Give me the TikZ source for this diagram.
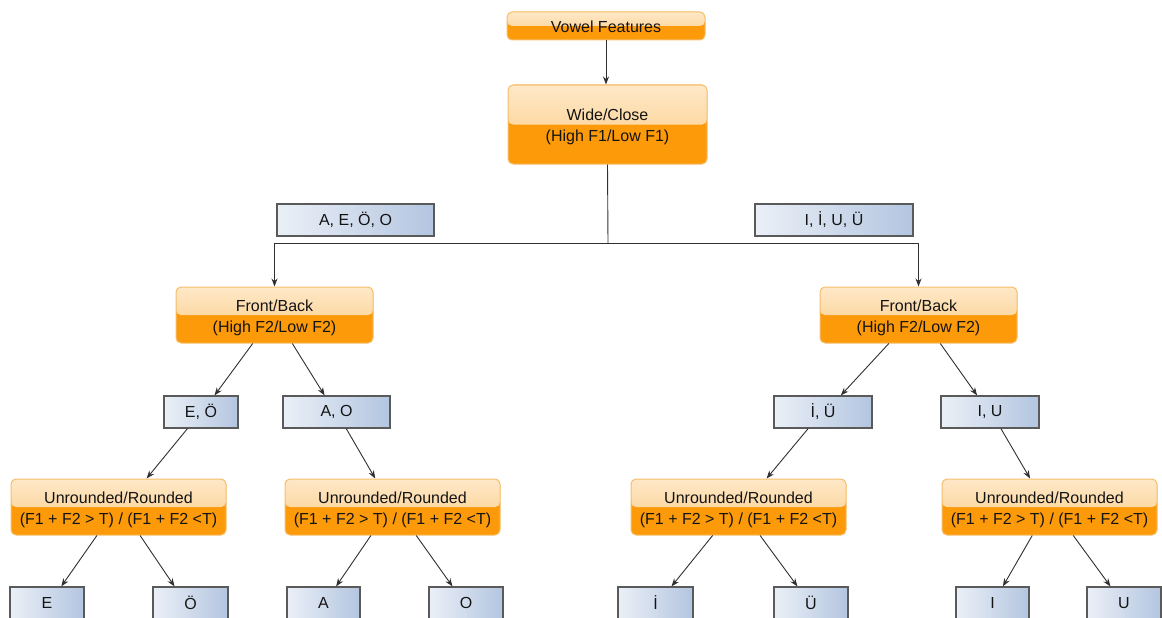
\documentclass[tikz,border=0pt]{standalone}
\usepackage{fontspec}
\setmainfont{Liberation Sans}
\usetikzlibrary{arrows.meta,calc}

\definecolor{otop}{HTML}{FEE8C8}
\definecolor{omid}{HTML}{FCCB82}
\definecolor{obot}{HTML}{FD9A0A}
\definecolor{ostroke}{HTML}{F6BE6A}
\definecolor{bleft}{HTML}{EBF0F7}
\definecolor{bright}{HTML}{B3C5E0}
\definecolor{bstroke}{HTML}{5A5A5A}
\definecolor{ink}{HTML}{141414}
\definecolor{wire}{HTML}{303030}

% strut that lowers a two-line label a little inside its box
\newcommand{\toprule}{\rule{0pt}{17pt}}

\begin{document}
\begin{tikzpicture}[x=1pt,y=-1pt,
  every node/.style={text=ink, font=\fontsize{16}{21}\selectfont},
  obox/.style={rounded corners=5pt, draw=ostroke, line width=1pt, fill=obot,
    inner sep=0pt, align=center,
    path picture={\fill[top color=otop, bottom color=omid]
      (path picture bounding box.north west) rectangle (path picture bounding box.east);}},
  bbox/.style={draw=bstroke, line width=1.2pt, left color=bleft, right color=bright,
    inner sep=0pt, minimum height=32pt},
  link/.style={draw=wire, line width=0.9pt, -{Stealth[length=8pt,width=6pt]}},
  plain/.style={draw=wire, line width=0.9pt}
]
\useasboundingbox (0,0) rectangle (1162,618);
\clip (0,0) rectangle (1162,618);

% decision boxes
\node[obox, minimum width=198pt, minimum height=28pt] (vf) at (606,26) {\rule{0pt}{13pt}Vowel Features};
\node[obox, minimum width=199pt, minimum height=79pt] (wc) at (607.5,124.5) {\toprule Wide/Close\\(High F1/Low F1)};
\node[obox, minimum width=197pt, minimum height=56pt] (fbL) at (274.5,315) {\toprule Front/Back\\(High F2/Low F2)};
\node[obox, minimum width=197pt, minimum height=56pt] (fbR) at (918.5,315) {\toprule Front/Back\\(High F2/Low F2)};
\node[obox, minimum width=215pt, minimum height=56pt] (urL) at (118.5,507) {\toprule Unrounded/Rounded\\(F1 + F2 > T) / (F1 + F2 <T)};
\node[obox, minimum width=215pt, minimum height=56pt] (urML) at (392.5,507) {\toprule Unrounded/Rounded\\(F1 + F2 > T) / (F1 + F2 <T)};
\node[obox, minimum width=215pt, minimum height=56pt] (urMR) at (738.5,507) {\toprule Unrounded/Rounded\\(F1 + F2 > T) / (F1 + F2 <T)};
\node[obox, minimum width=215pt, minimum height=56pt] (urR) at (1049.5,507) {\toprule Unrounded/Rounded\\(F1 + F2 > T) / (F1 + F2 <T)};

% vowel groups
\node[bbox, minimum width=157pt] (gAEOO) at (355.5,220) {A, E, Ö, O};
\node[bbox, minimum width=158pt] (gIIUU) at (834,220) {I, İ, U, Ü};
\node[bbox, minimum width=74pt] (gEO) at (201,412) {E, Ö};
\node[bbox, minimum width=107pt] (gAO) at (336.5,412) {A, O};
\node[bbox, minimum width=98pt] (gIdU) at (823,412) {İ, Ü};
\node[bbox, minimum width=98pt] (gIU) at (990,412) {I, U};

% single vowels
\node[bbox, minimum width=74pt] (vE) at (47,603) {E};
\node[bbox, minimum width=75pt] (vOe) at (190.5,603) {Ö};
\node[bbox, minimum width=73pt] (vA) at (323.5,603) {A};
\node[bbox, minimum width=74pt] (vO) at (466,603) {O};
\node[bbox, minimum width=75pt] (vId) at (655.5,603) {İ};
\node[bbox, minimum width=74pt] (vUe) at (811,603) {Ü};
\node[bbox, minimum width=73pt] (vI) at (992.5,603) {I};
\node[bbox, minimum width=74pt] (vU) at (1124,603) {U};

% top connectors
\coordinate (bus) at (608,243);
\draw[link] (vf.south) -- (vf.south |- wc.north);
\draw[plain] (wc.south) -- (bus);
\draw[link] (bus) -| (fbL.north);
\draw[link] (bus) -| (fbR.north);

% tree connectors
\newcommand{\branch}[4]{%
  \draw[link] ($(#1.south west)!#2!(#1.south east)$) -- ($(#3.north west)!#4!(#3.north east)$);}
\branch{fbL}{0.39}{gEO}{0.68}
\branch{fbL}{0.59}{gAO}{0.39}
\branch{fbR}{0.35}{gIdU}{0.68}
\branch{fbR}{0.61}{gIU}{0.37}
\branch{gEO}{0.32}{urL}{0.63}
\branch{gAO}{0.59}{urML}{0.42}
\branch{gIdU}{0.35}{urMR}{0.63}
\branch{gIU}{0.61}{urR}{0.41}
\branch{urL}{0.40}{vE}{0.69}
\branch{urL}{0.60}{vOe}{0.29}
\branch{urML}{0.40}{vA}{0.67}
\branch{urML}{0.61}{vO}{0.32}
\branch{urMR}{0.38}{vId}{0.71}
\branch{urMR}{0.60}{vUe}{0.32}
\branch{urR}{0.42}{vI}{0.64}
\branch{urR}{0.61}{vU}{0.32}
\end{tikzpicture}
\end{document}
